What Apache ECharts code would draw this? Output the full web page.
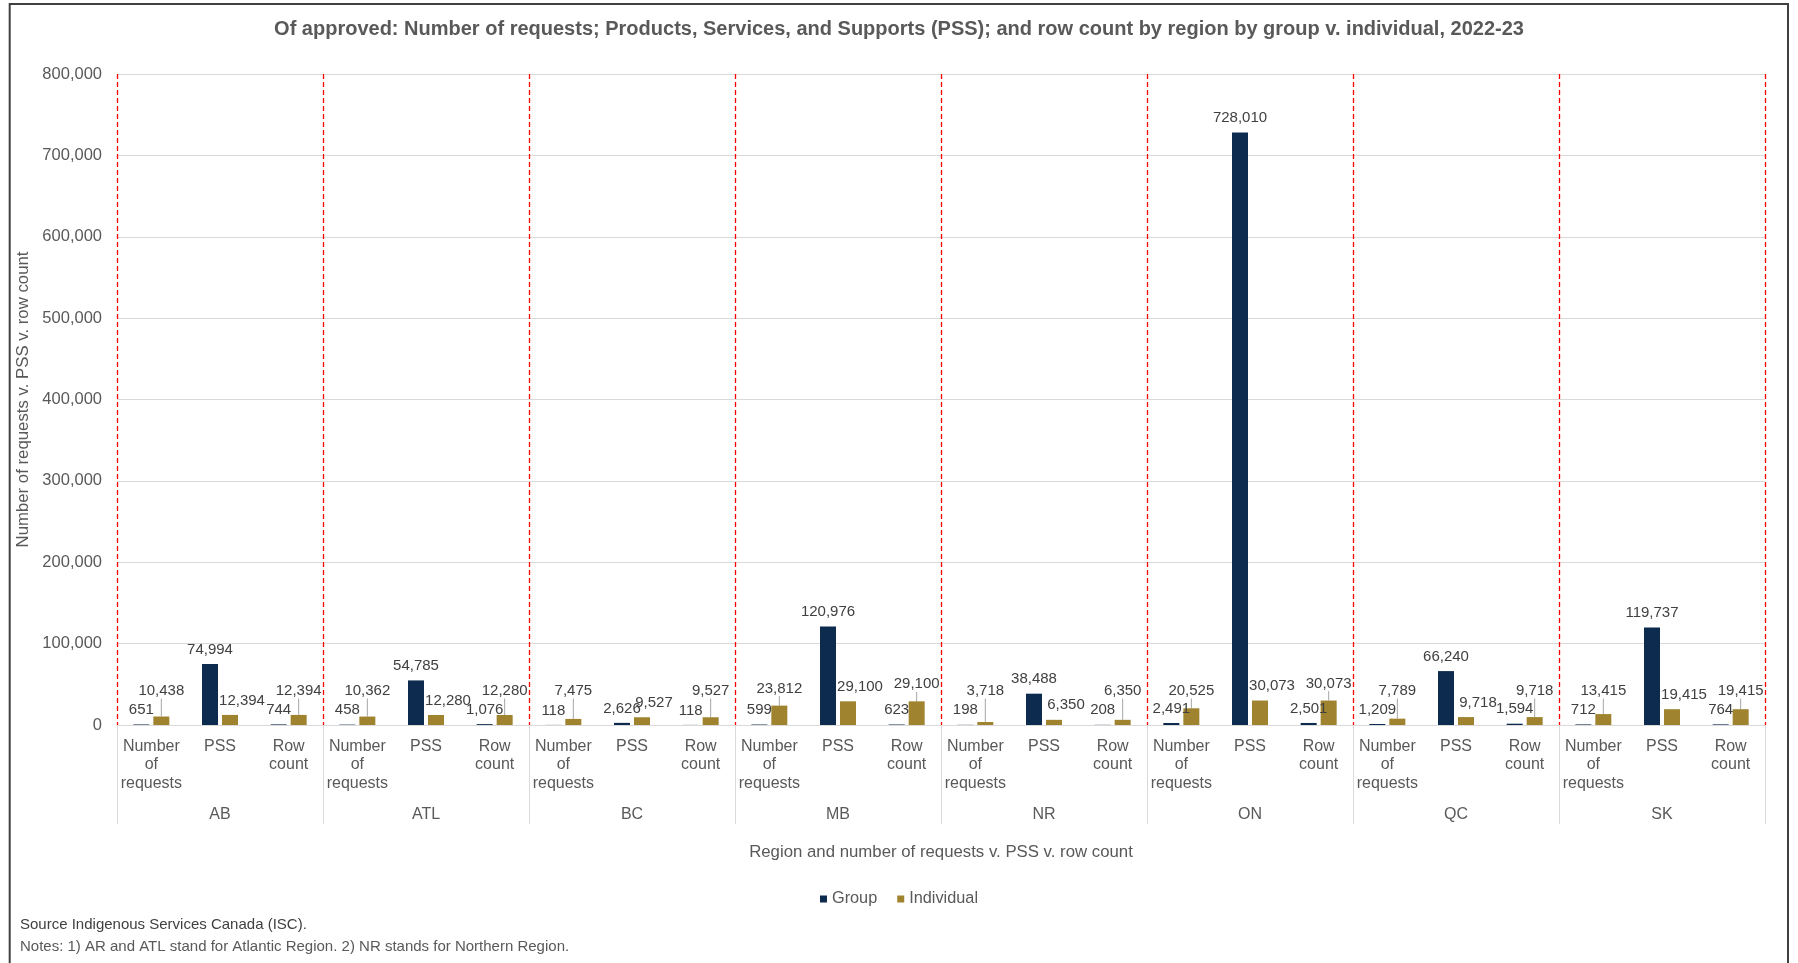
<!DOCTYPE html>
<html>
<head>
<meta charset="utf-8">
<script src="https://cdn.jsdelivr.net/npm/echarts@6/dist/echarts.min.js"></script>
<style>
  html, body { margin: 0; padding: 0; background: #ffffff; }
  #chart { width: 1798px; height: 963px; }
</style>
</head>
<body>
<div id="chart"></div>
<script>
const regions = ['AB', 'ATL', 'BC', 'MB', 'NR', 'ON', 'QC', 'SK'];
const measures = ['Number of requests', 'PSS', 'Row count'];
const groupValues = [
  651, 74994, 744,
  458, 54785, 1076,
  118, 2626, 118,
  599, 120976, 623,
  198, 38488, 208,
  2491, 728010, 2501,
  1209, 66240, 1594,
  712, 119737, 764
];
const individualValues = [
  10438, 12394, 12394,
  10362, 12280, 12280,
  7475, 9527, 9527,
  23812, 29100, 29100,
  3718, 6350, 6350,
  20525, 30073, 30073,
  7789, 9718, 9718,
  13415, 19415, 19415
];
const seriesNames = ['Group', 'Individual'];
const titleText = 'Of approved: Number of requests; Products, Services, and Supports (PSS); and row count by region by group v. individual, 2022-23';
const xTitle = 'Region and number of requests v. PSS v. row count';
const yTitle = 'Number of requests v. PSS v. row count';
const sourceText = 'Source Indigenous Services Canada (ISC).';
const notesText = 'Notes: 1) AR and ATL stand for Atlantic Region. 2) NR stands for Northern Region.';

const categories = regions.flatMap(() => measures);
const FONT = '"Liberation Sans", Arial, sans-serif';
const fmt = v => Number(v).toLocaleString('en-US');

const chart = echarts.init(document.getElementById('chart'), null, { renderer: 'canvas' });

const labelStyle = {
  show: true,
  position: 'top',
  distance: 7,
  fontFamily: FONT,
  fontSize: 15,
  color: '#404040',
  formatter: p => fmt(p.value)
};

chart.setOption({
  animation: false,
  textStyle: { fontFamily: FONT },
  title: [
    {
      text: titleText,
      left: 'center',
      top: 17,
      padding: 0,
      textStyle: { fontFamily: FONT, fontSize: 20, fontWeight: 'bold', color: '#595959', lineHeight: 24 }
    },
    {
      text: sourceText,
      left: 20,
      top: 916,
      padding: 0,
      textStyle: { fontFamily: FONT, fontSize: 15, fontWeight: 'normal', color: '#404040', lineHeight: 18 }
    },
    {
      text: notesText,
      left: 20,
      top: 938,
      padding: 0,
      textStyle: { fontFamily: FONT, fontSize: 15, fontWeight: 'normal', color: '#595959', lineHeight: 18 }
    }
  ],
  legend: {
    data: seriesNames,
    left: 'center',
    top: 886,
    icon: 'rect',
    itemWidth: 7,
    itemHeight: 7,
    itemGap: 20,
    textStyle: { fontFamily: FONT, fontSize: 16.3, color: '#595959' }
  },
  graphic: [
    {
      type: 'rect',
      silent: true,
      shape: { x: 9.7, y: 3.9, width: 1778.3, height: 1000 },
      style: { fill: 'none', stroke: '#404040', lineWidth: 2 },
      z: 100
    }
  ],
  grid: { left: 117, right: 33, top: 74, bottom: 238, containLabel: false },
  xAxis: [
    {
      type: 'category',
      data: categories,
      position: 'bottom',
      axisLine: { show: true, lineStyle: { color: '#d9d9d9', width: 1 } },
      axisTick: { show: false },
      splitLine: { show: false },
      axisLabel: {
        interval: 0,
        margin: 12,
        fontFamily: FONT,
        fontSize: 16,
        lineHeight: 18.7,
        color: '#595959',
        formatter: v => v.split(' ').join('\n')
      }
    },
    {
      type: 'category',
      data: regions,
      position: 'bottom',
      name: xTitle,
      nameLocation: 'middle',
      nameGap: 119,
      nameTextStyle: { fontFamily: FONT, fontSize: 16.8, color: '#595959' },
      axisLine: { show: false },
      axisTick: { show: true, interval: 0, length: 99, lineStyle: { color: '#d9d9d9', width: 1 } },
      splitLine: { show: true, interval: 0, lineStyle: { color: '#ff0000', width: 1.3, type: [5, 3] } },
      axisLabel: {
        interval: 0,
        margin: 80,
        fontFamily: FONT,
        fontSize: 16,
        lineHeight: 18.7,
        color: '#595959'
      }
    }
  ],
  yAxis: {
    type: 'value',
    min: 0,
    max: 800000,
    interval: 100000,
    name: yTitle,
    nameLocation: 'middle',
    nameGap: 82,
    nameTextStyle: { fontFamily: FONT, fontSize: 16.8, color: '#595959' },
    axisLine: { show: false },
    axisTick: { show: false },
    splitLine: { show: true, lineStyle: { color: '#d9d9d9', width: 1 } },
    axisLabel: {
      margin: 15,
      fontFamily: FONT,
      fontSize: 16.5,
      color: '#595959',
      formatter: v => fmt(v)
    }
  },
  series: [
    {
      name: seriesNames[0],
      type: 'bar',
      xAxisIndex: 0,
      data: groupValues,
      barWidth: 16,
      barGap: '25%',
      itemStyle: { color: '#0d2a4f' },
      label: labelStyle,
      z: 3
    },
    {
      name: seriesNames[1],
      type: 'bar',
      xAxisIndex: 0,
      data: individualValues.map((v, i) => ({
        value: v,
        labelLine: { show: measures[i % 3] !== 'PSS' }
      })),
      barWidth: 16,
      barGap: '25%',
      itemStyle: { color: '#a0832f' },
      label: labelStyle,
      labelLine: { show: true, lineStyle: { color: '#a6a6a6', width: 1 } },
      labelLayout: function (p) {
        const m = measures[p.dataIndex % 3];
        if (m === 'PSS') return { dx: 12 };
        const top = p.rect.y;
        const base = p.rect.y + p.rect.height;
        const cur = p.labelRect.y + p.labelRect.height / 2;
        const target = Math.min(top - 17, base - 34);
        return { dy: target - cur };
      },
      z: 3
    }
  ]
});
</script>
</body>
</html>
